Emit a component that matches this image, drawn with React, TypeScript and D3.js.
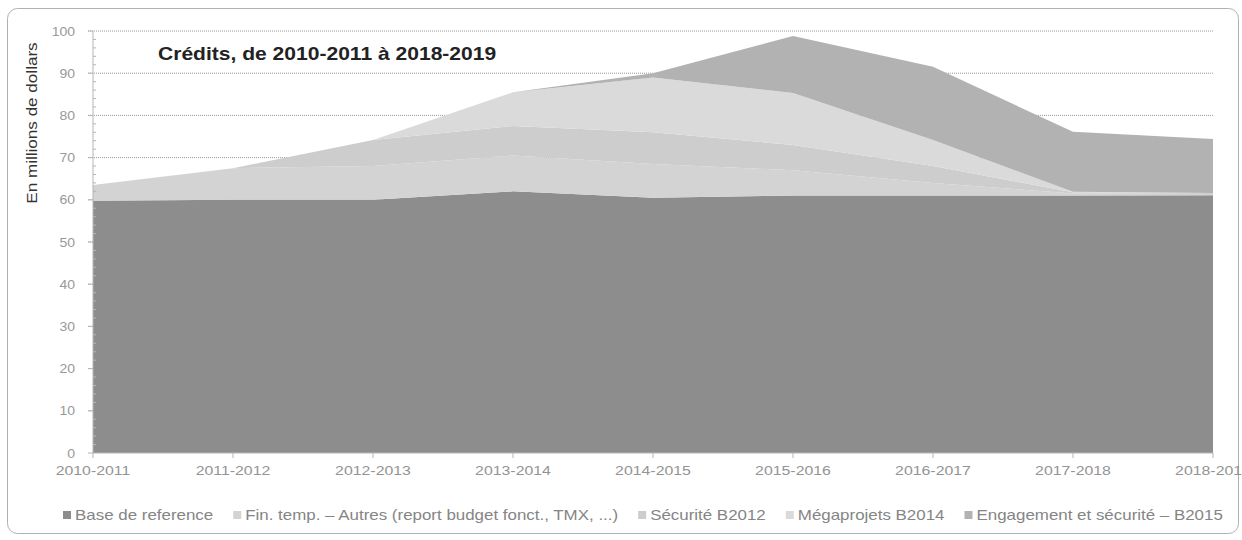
import React, { useRef, useEffect } from 'react';
import * as d3 from 'd3';

const categories = ['2010-2011', '2011-2012', '2012-2013', '2013-2014', '2014-2015', '2015-2016', '2016-2017', '2017-2018', '2018-2019'];

const baseReference = [59.8, 60, 60, 62, 60.5, 61, 61, 61, 61.1];
const finTemp = [3.7, 7.5, 8, 8.5, 8, 6, 3, 0.5, 0.3];
const securite2012 = [0, 0, 6.2, 7, 7.5, 6, 4, 0.3, 0.2];
const megaprojets2014 = [0, 0, 0, 8, 13, 12.3, 6.2, 0.1, 0];
const engagement2015 = [0, 0, 0, 0, 1, 13.5, 17.3, 14.2, 12.8];

const seriesNames = [
    'Base de reference',
    'Fin. temp. – Autres (report budget fonct., TMX, ...)',
    'Sécurité B2012',
    'Mégaprojets B2014',
    'Engagement et sécurité – B2015',
];
const seriesColors = ['#8d8d8d', '#d3d3d3', '#cdcdcd', '#dadada', '#b2b2b2'];

const yTicks = [0, 10, 20, 30, 40, 50, 60, 70, 80, 90, 100];

const App: React.FC = () => {
    const svgRef = useRef<SVGSVGElement | null>(null);

    useEffect(() => {
        if (!svgRef.current) return;
        const svg = d3.select(svgRef.current);
        svg.selectAll('*').remove();

        const font = 'Arial, "Liberation Sans", sans-serif';
        const values = [baseReference, finTemp, securite2012, megaprojets2014, engagement2015];
        const rows = categories.map((c, i) => {
            const row: any = { cat: c };
            seriesNames.forEach((n, k) => { row[n] = values[k][i]; });
            return row;
        });

        const x = d3.scalePoint().domain(categories).range([93, 1213]);
        const y = d3.scaleLinear().domain([0, 100]).range([453, 31]);

        // the source picture is stretched sideways, text follows that
        const stretched = (g: any, px: number, py: number, sx: number) =>
            g.append('text').attr('transform', `translate(${px},${py}) scale(${sx},1)`);

        // outer frame
        svg.append('rect')
            .attr('x', 7.5).attr('y', 8.5)
            .attr('width', 1231).attr('height', 525)
            .attr('rx', 10)
            .attr('fill', 'white')
            .attr('stroke', '#b0b0b0');

        // gridlines
        svg.append('g').selectAll('line')
            .data(yTicks.filter(t => t > 0))
            .enter().append('line')
            .attr('x1', 88).attr('x2', 1213)
            .attr('y1', d => y(d)).attr('y2', d => y(d))
            .attr('stroke', '#9a9a9a')
            .attr('stroke-dasharray', '1,1');

        const stack = d3.stack().keys(seriesNames);
        const layers = stack(rows);
        const area = d3.area<any>()
            .x(d => x(d.data.cat) as number)
            .y0(d => y(d[0]))
            .y1(d => y(d[1]));

        svg.append('g').selectAll('path')
            .data(layers)
            .enter().append('path')
            .attr('d', area as any)
            .attr('fill', (_d, i) => seriesColors[i]);

        // y axis
        const axisColor = '#b5b5b5';
        svg.append('line')
            .attr('x1', 93).attr('x2', 93).attr('y1', 31).attr('y2', 453)
            .attr('stroke', axisColor);
        svg.append('g').selectAll('line')
            .data(d3.range(0, 101, 2).filter(v => v % 10 !== 0))
            .enter().append('line')
            .attr('x1', 93).attr('x2', 96)
            .attr('y1', d => y(d)).attr('y2', d => y(d))
            .attr('stroke', axisColor);
        svg.append('g').selectAll('line')
            .data(yTicks)
            .enter().append('line')
            .attr('x1', 88).attr('x2', 93)
            .attr('y1', d => y(d)).attr('y2', d => y(d))
            .attr('stroke', axisColor);
        const yLabels = svg.append('g');
        yTicks.forEach(t => {
            stretched(yLabels, 75, y(t) + 4.5, 1.12)
                .attr('text-anchor', 'end')
                .style('font-family', font).style('font-size', '12.5px')
                .attr('fill', '#999')
                .text(t);
        });

        // x axis
        svg.append('line')
            .attr('x1', 93).attr('x2', 1213).attr('y1', 453).attr('y2', 453)
            .attr('stroke', axisColor);
        svg.append('g').selectAll('line')
            .data(categories)
            .enter().append('line')
            .attr('x1', d => x(d) as number).attr('x2', d => x(d) as number)
            .attr('y1', 453).attr('y2', 458)
            .attr('stroke', axisColor);
        const xLabels = svg.append('g');
        categories.forEach(c => {
            stretched(xLabels, x(c) as number, 475, 1.22)
                .attr('text-anchor', 'middle')
                .style('font-family', font).style('font-size', '13px')
                .attr('fill', '#949494')
                .text(c);
        });

        // y title
        svg.append('text')
            .attr('transform', 'translate(37,123) rotate(-90) scale(1.22,1)')
            .attr('text-anchor', 'middle')
            .style('font-family', font).style('font-size', '14px')
            .attr('fill', '#333')
            .text('En millions de dollars');

        // chart title
        stretched(svg, 158, 60, 1.17)
            .style('font-family', font).style('font-size', '18px').style('font-weight', 'bold')
            .attr('fill', '#222')
            .text('Crédits, de 2010-2011 à 2018-2019');

        // legend
        const legend = svg.append('g');
        const sx = 1.21;
        let lx = 63;
        seriesNames.forEach((name, i) => {
            legend.append('rect')
                .attr('x', lx).attr('y', 511)
                .attr('width', 8).attr('height', 8)
                .attr('fill', seriesColors[i]);
            const t = stretched(legend, lx + 12, 520, sx)
                .style('font-family', font).style('font-size', '14px')
                .attr('fill', '#858585')
                .text(name);
            const w = (t.node() as SVGTextElement).getComputedTextLength() * sx;
            lx += 12 + w + 20;
        });
    }, []);

    return (
        <svg ref={svgRef} width={1242} height={540}
            style={{ position: 'absolute', left: 0, top: 0, background: 'white' }} />
    );
};

export default App;
